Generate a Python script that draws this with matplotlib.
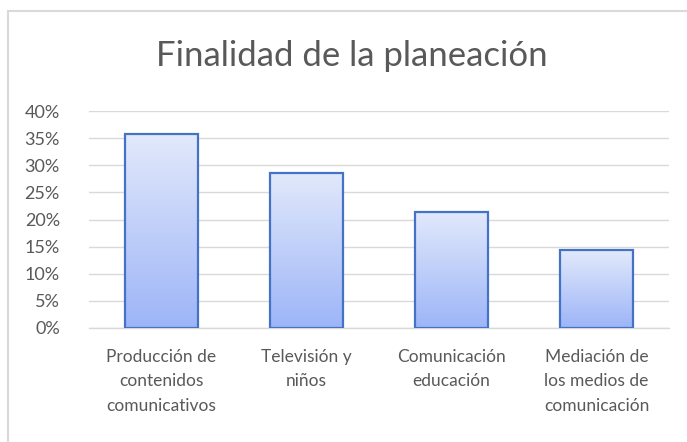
"""
Column chart: Finalidad de la planeación (share of responses per category).
"""
import matplotlib.pyplot as plt
import numpy as np
from matplotlib.patches import Rectangle
from matplotlib.ticker import FuncFormatter, MultipleLocator

categories = [
    "Producción de\ncontenidos\ncomunicativos",
    "Televisión y\nniños",
    "Comunicación\neducación",
    "Mediación de\nlos medios de\ncomunicación",
]
shares = [0.357, 0.286, 0.214, 0.143]

TEXT_GREY = "#595959"
GRID_GREY = "#d9d9d9"
EDGE_BLUE = "#4472c4"

plt.rcParams["font.family"] = ["Lato", "DejaVu Sans"]

fig = plt.figure(figsize=(6.87, 4.42), dpi=100)
ax = fig.add_axes([89 / 687, 1 - 328 / 442, (669 - 89) / 687, (328 - 111) / 442])

x = np.arange(len(categories))
bars = ax.bar(x, shares, width=0.5, facecolor="none", edgecolor=EDGE_BLUE,
              linewidth=1.6, zorder=3)

# vertical gradient fill, clipped to each bar
grad = np.linspace(0, 1, 256).reshape(-1, 1)
cmap = plt.matplotlib.colors.LinearSegmentedColormap.from_list(
    "barfill", ["#9db5f8", "#e2e9fb"])
for b in bars:
    x0, y0 = b.get_x(), b.get_y()
    w, h = b.get_width(), b.get_height()
    im = ax.imshow(grad, cmap=cmap, origin="lower", aspect="auto",
                   extent=(x0, x0 + w, y0, y0 + h), zorder=2)
    im.set_clip_path(b)

ax.set_xlim(-0.5, len(categories) - 0.5)
ax.set_ylim(0, 0.40)
ax.yaxis.set_major_locator(MultipleLocator(0.05))
ax.yaxis.set_major_formatter(FuncFormatter(lambda v, _: f"{v * 100:.0f}%"))
ax.grid(axis="y", color=GRID_GREY, linewidth=1.0, zorder=0)
ax.set_axisbelow(True)

for side in ("top", "right", "left"):
    ax.spines[side].set_visible(False)
ax.spines["bottom"].set_color(GRID_GREY)
ax.spines["bottom"].set_linewidth(1.0)

ax.set_xticks(x)
ax.set_xticklabels(categories, fontsize=12.5, color=TEXT_GREY, linespacing=1.65,
                   va="top")
ax.tick_params(axis="x", length=0, pad=15)
ax.tick_params(axis="y", length=0, pad=21, labelsize=13, labelcolor=TEXT_GREY)

fig.text(352 / 687, 1 - 56 / 442, "Finalidad de la planeación", fontsize=25,
         color=TEXT_GREY, ha="center", va="center")

# chart area frame (top and left edges visible)
fig.add_artist(Rectangle((7.5 / 687, -0.1), 1.2, 1.1 - 11.5 / 442,
                         transform=fig.transFigure, fill=False,
                         edgecolor=GRID_GREY, linewidth=1.5))

fig.savefig("out.png", dpi=100)
